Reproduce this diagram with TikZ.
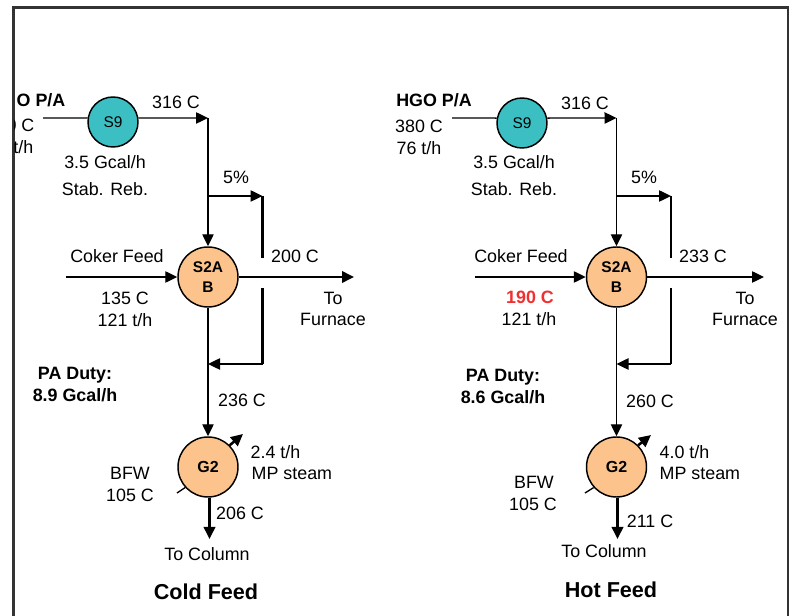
\documentclass[tikz,border=0pt]{standalone}
\usepackage{fontspec}
\setmainfont{Liberation Sans}
\usetikzlibrary{arrows.meta}
\definecolor{cteal}{HTML}{3CBFC3}
\definecolor{corange}{HTML}{FCC48C}
\definecolor{cred}{HTML}{F03030}
\definecolor{cframe}{HTML}{333333}
\tikzset{
  every picture/.style={line width=1pt},
  hotunit/.style={circle, draw=black, fill=cteal, minimum size=37.5pt, inner sep=0pt, line width=1.1pt, font=\fontsize{11.6}{13}\selectfont},
  coldunit/.style={circle, draw=black, fill=corange, minimum size=45pt, inner sep=0pt, line width=1.1pt, align=center, font=\fontsize{11.6}{15}\selectfont\bfseries},
  arrow/.style={-{Triangle[length=9pt, width=8.5pt]}},
  thick line/.style={line width=1.9pt},
  label/.style={font=\fontsize{13.4}{15}\selectfont, inner sep=0pt},
  boldlabel/.style={font=\fontsize{13.4}{15}\selectfont\bfseries, inner sep=0pt},
  title/.style={font=\fontsize{16.2}{18}\selectfont\bfseries, inner sep=0pt},
}

\begin{document}
\begin{tikzpicture}[x=0.75pt, y=-0.75pt]
  \useasboundingbox (0,0) rectangle (793,616);
  \draw[cframe, line width=1.7pt] (13.5,616) -- (13.5,7.5) -- (788,7.5) -- (788,616);

  % cold feed
  \begin{scope}
    \clip (14.5,60) rectangle (100,170);
    \node[boldlabel, anchor=west] (lname) at (16,100) {O P/A};
    \node[label, anchor=east] (ltemp) at (35,125) {0 C};
    \node[label, anchor=east] (lflow) at (34,147) {6 t/h};
  \end{scope}
  \node[hotunit] (ls9) at (113,122) {S9};
  \node[coldunit] (ls2a) at (208,277) {S2A\\B};
  \node[coldunit, font=\fontsize{12}{15}\selectfont\bfseries] (lg2) at (208,467) {G2};
  \coordinate (lin) at (43,118);
  \coordinate (ltee) at (208,118);
  \coordinate (lsplit) at (208,196);
  \coordinate (lby) at (262.5,196);
  \coordinate (lbyend) at (262.5,258);
  \coordinate (lbystart) at (262.5,288);
  \coordinate (lbycorner) at (262.5,364);
  \coordinate (lmix) at (208,364);
  \coordinate (lfeed) at (66,277);
  \coordinate (lout) at (354,277);
  \coordinate (lsteam) at (243,434);
  \coordinate (lbfw) at (177,493);
  \coordinate (lcol) at (209.5,539);
  \draw (lin) -- (ls9.171);
  \draw[arrow] (ls9.9) -- (ltee);
  \draw[arrow] (ltee) -- (ls2a.north);
  \draw[arrow] (lsplit) -- (lby);
  \draw[thick line] (lby) -- (lbyend);
  \draw[thick line] (lbystart) -- (lbycorner);
  \draw[arrow] (lbycorner) -- (lmix);
  \draw[arrow] (lfeed) -- (ls2a.west);
  \draw[arrow, thick line] (ls2a.east) -- (lout);
  \draw[arrow] (ls2a.south) -- (lg2.north);
  \draw[arrow, thick line] (lg2.45) -- (lsteam);
  \draw (lbfw) -- (lg2.222);
  \draw[arrow, thick line] (lcol |- lg2.south) -- (lcol);
  \node[label] (l316) at (176,102) {316 C};
  \node[label] (lduty) at (105,162) {3.5 Gcal/h};
  \node[label] (lreb) at (105,189) {Stab. Reb.};
  \node[label] (lfive) at (236,177) {5\%};
  \node[label] (lcoker) at (117,256) {Coker Feed};
  \node[label] (l200) at (295,256) {200 C};
  \node[label] (l135) at (125,298) {135 C};
  \node[label] (l121) at (125,320) {121 t/h};
  \node[label] (lto) at (333,298) {To};
  \node[label] (lfurn) at (333,319) {Furnace};
  \node[boldlabel] (lpa) at (75,375.5) {PA Duty:};
  \node[boldlabel] (lpaval) at (75,395) {8.9 Gcal/h};
  \node[label] (l236) at (242,400) {236 C};
  \node[label, anchor=west] (lst) at (250,452) {2.4 t/h};
  \node[label, anchor=west] (lmp) at (251,473) {MP steam};
  \node[label] (lbf) at (130,473) {BFW};
  \node[label] (l105) at (130,495) {105 C};
  \node[label] (l206) at (240,513) {206 C};
  \node[label] (ltc) at (207,554) {To Column};
  \node[title] (lcold) at (206,592) {Cold Feed};

  % hot feed
  \node[hotunit] (rs9) at (522,123) {S9};
  \node[coldunit] (rs2a) at (616.5,277) {S2A\\B};
  \node[coldunit, font=\fontsize{12}{15}\selectfont\bfseries] (rg2) at (616.5,467) {G2};
  \coordinate (rin) at (452,118);
  \coordinate (rtee) at (616.5,118);
  \coordinate (rsplit) at (616.5,196);
  \coordinate (rby) at (671,196);
  \coordinate (rbyend) at (671,258);
  \coordinate (rbystart) at (671,288);
  \coordinate (rbycorner) at (671,364);
  \coordinate (rmix) at (616.5,364);
  \coordinate (rfeed) at (475,277);
  \coordinate (rout) at (764,277);
  \coordinate (rsteam) at (651,435);
  \coordinate (rbfw) at (585,493);
  \coordinate (rcol) at (617.5,539);
  \draw (rin) -- (rs9.169);
  \draw[arrow] (rs9.11) -- (rtee);
  \draw[arrow] (rtee) -- (rs2a.north);
  \draw[arrow] (rsplit) -- (rby);
  \draw (rby) -- (rbyend);
  \draw (rbystart) -- (rbycorner);
  \draw[arrow] (rbycorner) -- (rmix);
  \draw[arrow] (rfeed) -- (rs2a.west);
  \draw[arrow] (rs2a.east) -- (rout);
  \draw[arrow] (rs2a.south) -- (rg2.north);
  \draw[arrow, thick line] (rg2.45) -- (rsteam);
  \draw (rbfw) -- (rg2.222);
  \draw[arrow, thick line] (rcol |- rg2.south) -- (rcol);
  \node[boldlabel] (rname) at (434,100) {HGO P/A};
  \node[label] (rtemp) at (419,126) {380 C};
  \node[label] (rflow) at (419,148) {76 t/h};
  \node[label] (r316) at (585,103) {316 C};
  \node[label] (rduty) at (514,162) {3.5 Gcal/h};
  \node[label] (rreb) at (514,189) {Stab. Reb.};
  \node[label] (rfive) at (644,177) {5\%};
  \node[label] (rcoker) at (521,256) {Coker Feed};
  \node[label] (r233) at (703,256) {233 C};
  \node[boldlabel, text=cred] (r190) at (530,297) {190 C};
  \node[label] (r121) at (529,319) {121 t/h};
  \node[label] (rto) at (745,298) {To};
  \node[label] (rfurn) at (745,319) {Furnace};
  \node[boldlabel] (rpa) at (503,377.5) {PA Duty:};
  \node[boldlabel] (rpaval) at (503,397) {8.6 Gcal/h};
  \node[label] (r260) at (650,401) {260 C};
  \node[label, anchor=west] (rst) at (659,452) {4.0 t/h};
  \node[label, anchor=west] (rmp) at (659,473) {MP steam};
  \node[label] (rbf) at (534,482) {BFW};
  \node[label] (r105) at (533,504) {105 C};
  \node[label] (r211) at (650,521) {211 C};
  \node[label] (rtc) at (604,551) {To Column};
  \node[title] (rhot) at (611,590) {Hot Feed};
\end{tikzpicture}
\end{document}
